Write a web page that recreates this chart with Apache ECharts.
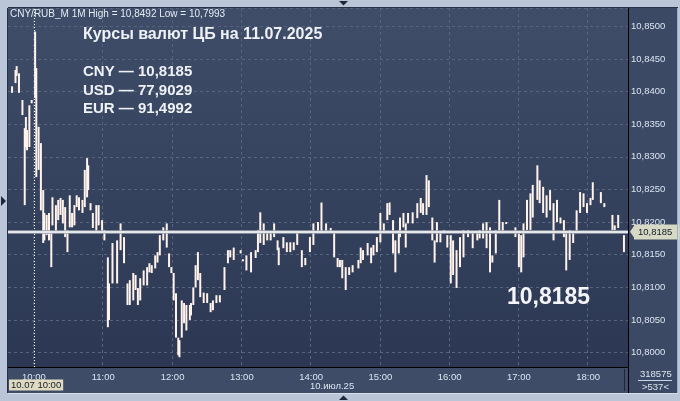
<!DOCTYPE html>
<html><head><meta charset="utf-8">
<script src="https://cdn.jsdelivr.net/npm/echarts@6/dist/echarts.min.js"></script>
<style>html,body{margin:0;padding:0;background:#bac6d8;overflow:hidden}#c{width:680px;height:401px}</style>
</head><body><div id="c"></div>
<script>
// ---- data (1-minute CNY/RUB bars) ----
const times = ['09:41','09:44','09:45','09:47','09:50','09:52','09:53','09:54','09:56','09:58','10:01','10:02','10:04','10:06','10:08','10:09','10:11','10:13','10:15','10:16','10:19','10:21','10:23','10:25','10:27','10:29','10:31','10:33','10:35','10:37','10:39','10:42','10:44','10:46','10:47','10:49','10:51','10:54','10:56','10:59','11:01','11:04','11:05','11:08','11:12','11:15','11:18','11:21','11:23','11:26','11:28','11:30','11:32','11:35','11:38','11:40','11:42','11:45','11:47','11:49','11:52','11:55','11:57','11:59','12:01','12:03','12:05','12:06','12:08','12:10','12:12','12:15','12:16','12:18','12:20','12:22','12:24','12:27','12:30','12:33','12:35','12:38','12:41','12:45','12:48','12:50','12:53','12:59','13:01','13:04','13:08','13:12','13:14','13:16','13:19','13:22','13:25','13:28','13:31','13:32','13:36','13:39','13:42','13:45','13:48','13:52','13:55','13:59','14:02','14:06','14:09','14:13','14:17','14:20','14:23','14:25','14:27','14:30','14:33','14:36','14:41','14:43','14:45','14:49','14:52','14:54','14:57','15:00','15:03','15:06','15:08','15:11','15:13','15:16','15:17','15:20','15:22','15:24','15:28','15:32','15:35','15:37','15:40','15:42','15:45','15:47','15:49','15:52','15:55','15:58','16:01','16:03','16:06','16:09','16:12','16:16','16:20','16:24','16:26','16:29','16:32','16:35','16:37','16:40','16:43','16:46','16:49','16:57','17:00','17:02','17:04','17:07','17:10','17:12','17:16','17:18','17:21','17:24','17:27','17:30','17:33','17:36','17:39','17:41','17:44','17:47','17:50','17:53','17:56','17:59','18:02','18:04','18:11','18:14','18:21','18:23','18:26','18:31'];
const highs = [10.8408,10.8433,10.8439,10.8428,10.8387,10.8344,10.8361,10.8341,10.8379,10.8387,10.8492,10.8436,10.8346,10.8321,10.8249,10.8214,10.8211,10.8214,10.8184,10.8238,10.8226,10.8234,10.8237,10.8234,10.8223,10.8188,10.8241,10.8214,10.8226,10.8241,10.8238,10.8234,10.8280,10.8298,10.8287,10.8229,10.8214,10.8226,10.8226,10.8203,10.8188,10.8146,10.8106,10.8168,10.8172,10.8198,10.8177,10.8106,10.8111,10.8122,10.8119,10.8099,10.8114,10.8126,10.8131,10.8137,10.8134,10.8149,10.8154,10.8180,10.8192,10.8198,10.8152,10.8131,10.8122,10.8091,10.8023,10.8019,10.8080,10.8076,10.8073,10.8073,10.8076,10.8100,10.8134,10.8154,10.8122,10.8092,10.8091,10.8076,10.8080,10.8088,10.8088,10.8131,10.8157,10.8157,10.8161,10.8157,10.8143,10.8149,10.8154,10.8157,10.8188,10.8215,10.8198,10.8184,10.8184,10.8198,10.8172,10.8161,10.8177,10.8169,10.8169,10.8169,10.8184,10.8157,10.8145,10.8177,10.8198,10.8200,10.8230,10.8198,10.8191,10.8184,10.8145,10.8142,10.8142,10.8131,10.8131,10.8134,10.8142,10.8161,10.8157,10.8168,10.8161,10.8165,10.8177,10.8214,10.8198,10.8229,10.8230,10.8203,10.8172,10.8188,10.8207,10.8214,10.8198,10.8214,10.8215,10.8229,10.8237,10.8229,10.8272,10.8264,10.8207,10.8172,10.8200,10.8184,10.8188,10.8180,10.8180,10.8172,10.8157,10.8177,10.8188,10.8188,10.8184,10.8184,10.8188,10.8198,10.8200,10.8192,10.8149,10.8188,10.8234,10.8200,10.8200,10.8192,10.8183,10.8180,10.8198,10.8234,10.8244,10.8257,10.8287,10.8264,10.8254,10.8241,10.8249,10.8229,10.8234,10.8207,10.8203,10.8183,10.8188,10.8183,10.8218,10.8246,10.8244,10.8229,10.8237,10.8261,10.8246,10.8229,10.8211,10.8195,10.8211,10.8180];
const lows = [10.8398,10.8413,10.8424,10.8398,10.8364,10.8226,10.8315,10.8310,10.8315,10.8382,10.8390,10.8269,10.8280,10.8218,10.8168,10.8172,10.8180,10.8172,10.8131,10.8195,10.8183,10.8203,10.8211,10.8198,10.8177,10.8154,10.8192,10.8192,10.8195,10.8223,10.8218,10.8214,10.8223,10.8238,10.8249,10.8218,10.8191,10.8184,10.8195,10.8184,10.8172,10.8039,10.8050,10.8106,10.8106,10.8157,10.8137,10.8073,10.8073,10.8080,10.8096,10.8073,10.8080,10.8103,10.8103,10.8123,10.8122,10.8129,10.8138,10.8149,10.8172,10.8161,10.8131,10.8122,10.8080,10.8023,10.7996,10.7993,10.8023,10.8045,10.8034,10.8050,10.8057,10.8073,10.8100,10.8111,10.8085,10.8076,10.8076,10.8062,10.8065,10.8076,10.8077,10.8096,10.8137,10.8146,10.8142,10.8152,10.8140,10.8126,10.8123,10.8145,10.8154,10.8168,10.8165,10.8172,10.8172,10.8177,10.8157,10.8134,10.8160,10.8154,10.8154,10.8157,10.8165,10.8131,10.8134,10.8154,10.8165,10.8183,10.8183,10.8184,10.8184,10.8146,10.8131,10.8131,10.8114,10.8096,10.8119,10.8123,10.8129,10.8137,10.8142,10.8149,10.8137,10.8149,10.8154,10.8169,10.8184,10.8203,10.8211,10.8152,10.8123,10.8152,10.8177,10.8192,10.8161,10.8198,10.8198,10.8206,10.8214,10.8211,10.8211,10.8223,10.8172,10.8138,10.8169,10.8169,10.8183,10.8161,10.8106,10.8119,10.8099,10.8131,10.8146,10.8177,10.8160,10.8172,10.8175,10.8175,10.8160,10.8123,10.8138,10.8152,10.8183,10.8183,10.8197,10.8177,10.8131,10.8123,10.8146,10.8188,10.8188,10.8207,10.8234,10.8229,10.8214,10.8207,10.8218,10.8172,10.8200,10.8198,10.8177,10.8126,10.8142,10.8168,10.8183,10.8214,10.8223,10.8214,10.8226,10.8234,10.8229,10.8223,10.8188,10.8188,10.8191,10.8154];
const xTickLabels = ['10:00','11:00','12:00','13:00','14:00','15:00','16:00','17:00','18:00'];
const firstMinute = '09:38';
const lastMinute = '18:34';
const yMin = 10.7978, yMax = 10.8528, yStep = 0.005;
const lastPrice = 10.8185;
const sessionStart = '10:00';
const headerText = 'CNY/RUB_M 1M High = 10,8492 Low = 10,7993';
const titleText = 'Курсы валют ЦБ на 11.07.2025';
const rateLines = ['CNY — 10,8185', 'USD — 77,9029', 'EUR — 91,4992'];
const bigValue = '10,8185';
const cursorDate = '10.07 10:00';
const dayLabel = '10.июл.25';
const volumeText = '318575';
const barsText = '>537<';

// ---- build ----
function toMin(s){const p=s.split(':');return +p[0]*60 + +p[1];}
function pad(n){return (n<10?'0':'')+n;}
const categories = [];
for (let m = toMin(firstMinute); m <= toMin(lastMinute); m++) categories.push(pad(Math.floor(m/60)) + ':' + pad(m%60));
const seriesData = times.map((t,i)=>[t, lows[i], highs[i]]);
const fmt = v => v.toFixed(4).replace('.', ',');

const SANS = '"Liberation Sans", Arial, sans-serif';
const chart = echarts.init(document.getElementById('c'), null, {renderer:'canvas', width:680, height:401});
const isHour = (i, v) => xTickLabels.indexOf(v) >= 0;
chart.setOption({
  animation: false,
  backgroundColor: '#bac6d8',
  grid: {left: 8, top: 8, width: 620, height: 359, show: true, borderWidth: 0,
    backgroundColor: {type:'linear', x:0, y:0, x2:0, y2:1, colorStops:[{offset:0,color:'#3f4d68'},{offset:1,color:'#2c3853'}]}},
  xAxis: {
    type: 'category', data: categories, boundaryGap: true,
    axisLine: {show: true, lineStyle: {color: '#000000', width: 1}},
    axisTick: {show: false},
    axisLabel: {interval: isHour, color: '#dbe4f1', fontFamily: SANS, fontSize: 9.5, margin: 5},
    splitLine: {show: true, interval: isHour, lineStyle: {color: '#56647e', type: [3,3], width: 1}}
  },
  yAxis: {
    type: 'value', position: 'right', min: yMin, max: yMax, splitNumber: 11,
    minInterval: yStep, maxInterval: yStep, scale: true,
    axisLine: {show: true, lineStyle: {color: '#000000', width: 1}},
    axisTick: {show: false},
    axisLabel: {color: '#dbe4f1', fontFamily: SANS, fontSize: 9.5, margin: 3,
      showMinLabel: false, showMaxLabel: false, formatter: fmt},
    splitLine: {show: true, lineStyle: {color: '#56647e', type: [3,3], width: 1}}
  },
  series: [{
    type: 'custom',
    encode: {x: 0, y: [1, 2]},
    data: seriesData,
    renderItem: function(params, api){
      const xi = api.value(0);
      const hi = api.coord([xi, api.value(2)]);
      const lo = api.coord([xi, api.value(1)]);
      return {type:'rect', shape:{x: hi[0]-1, y: hi[1], width: 2, height: Math.max(1, lo[1]-hi[1])},
        style:{fill:'#fff3ec'}};
    },
    markLine: {
      silent: true, symbol: ['none','none'], animation: false, precision: 4,
      data: [
        {xAxis: sessionStart, lineStyle: {color:'#ffffff', type:[1,2], width:1}, label:{show:false}},
        {yAxis: lastPrice, lineStyle: {color:'#9aa1ad', type:'solid', width:3.5}, label:{show:false}},
        {yAxis: lastPrice, lineStyle: {color:'#ffffff', type:'solid', width:1.5},
          label:{show:true, position:'end', distance:6, formatter: fmt(lastPrice), color:'#141a2b',
            backgroundColor:'#d6d9c3', padding:[3,7,2,4], fontFamily: SANS, fontSize: 9.5}}
      ]
    }
  }],
  graphic: [
    {type:'rect', x:629, y:8, shape:{width:49, height:385}, style:{fill:'#3c4964'}, z:-1, silent:true},
    {type:'rect', x:8, y:367, shape:{width:621, height:26}, style:{fill:'#3e4c68'}, z:-1, silent:true},
    {type:'line', x:0, y:0, shape:{x1:628.5, y1:366, x2:628.5, y2:393}, style:{stroke:'#000000', lineWidth:1}, z:10},
    {type:'line', x:0, y:0, shape:{x1:8, y1:7.5, x2:678, y2:7.5}, style:{stroke:'#27324a', lineWidth:1}, z:10},
    {type:'line', x:0, y:0, shape:{x1:7.5, y1:8, x2:7.5, y2:393}, style:{stroke:'#27324a', lineWidth:1}, z:10},
    {type:'line', x:0, y:0, shape:{x1:677.5, y1:8, x2:677.5, y2:393}, style:{stroke:'#9fb0c6', lineWidth:1}, z:10},
    {type:'line', x:0, y:0, shape:{x1:8, y1:393.5, x2:678, y2:393.5}, style:{stroke:'#d6e0ec', lineWidth:1}, z:10},
    {type:'line', x:0, y:0, shape:{x1:624.5, y1:369, x2:624.5, y2:391}, style:{stroke:'#1d2537', lineWidth:1}, z:10},
    {type:'line', x:0, y:0, shape:{x1:638, y1:380.5, x2:672, y2:380.5}, style:{stroke:'#c9d3e2', lineWidth:1}, z:10},
    {type:'polygon', x:0, y:0, shape:{points:[[630,231.7],[635,224.5],[635,239]]}, style:{fill:'#d6d9c3'}, z:20},
    {type:'polygon', x:0, y:0, shape:{points:[[339,1],[348,1],[343.5,5.5]]}, style:{fill:'#1e283c'}, z:10},
    {type:'polygon', x:0, y:0, shape:{points:[[339,400],[348,400],[343.5,395.5]]}, style:{fill:'#1e283c'}, z:10},
    {type:'polygon', x:0, y:0, shape:{points:[[1,196],[1,206],[6,201]]}, style:{fill:'#1e283c'}, z:10},
    {type:'text', x:10, y:9, style:{text: headerText, fill:'#e4ebf5', font:'10px ' + SANS}, z:50},
    {type:'text', x:83, y:27, style:{text: titleText, fill:'#eef1f6', font:'bold 16px ' + SANS}, z:50},
    {type:'text', x:83, y:64.5, style:{text: rateLines[0], fill:'#eef1f6', font:'bold 15px ' + SANS}, z:50},
    {type:'text', x:83, y:83, style:{text: rateLines[1], fill:'#eef1f6', font:'bold 15px ' + SANS}, z:50},
    {type:'text', x:83, y:101, style:{text: rateLines[2], fill:'#eef1f6', font:'bold 15px ' + SANS}, z:50},
    {type:'text', x:507, y:286, style:{text: bigValue, fill:'#f4f5f8', font:'bold 23px ' + SANS}, z:50},
    {type:'text', x:9, y:379.5, style:{text: cursorDate, fill:'#141a2b', font:'9.5px ' + SANS, backgroundColor:'#dedbc0', padding:[1,2,0,2]}, z:50},
    {type:'text', x:310, y:381, style:{text: dayLabel, fill:'#dbe4f1', font:'9.5px ' + SANS}, z:50},
    {type:'text', x:640, y:369.5, style:{text: volumeText, fill:'#dbe4f1', font:'9.5px ' + SANS}, z:50},
    {type:'text', x:642, y:382, style:{text: barsText, fill:'#dbe4f1', font:'9.5px ' + SANS}, z:50}
  ]
});
</script></body></html>
